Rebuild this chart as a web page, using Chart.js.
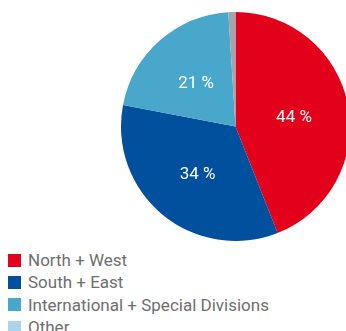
<!DOCTYPE html>
<html>
<head>
<meta charset="utf-8">
<script src="https://cdn.jsdelivr.net/npm/chart.js@4"></script>
<style>
  html, body { margin: 0; padding: 0; background: #fff; width: 346px; height: 331px; overflow: hidden; position: relative; }
  #wrap { position: absolute; left: 121px; top: 12px; width: 229px; height: 229px; }
  #legend { position: absolute; left: 8px; top: 249px; font-family: Roboto, "Noto Sans", sans-serif; font-size: 17px; color: #6e6e6e; }
  .item { height: 22.3px; line-height: 20px; display: flex; align-items: center; white-space: nowrap; }
  .sw { width: 13px; height: 13px; margin-right: 7px; flex: none; }
</style>
</head>
<body>
<div id="wrap"><canvas id="c"></canvas></div>
<div id="legend"></div>
<script>
const categories = ["North + West", "South + East", "International + Special Divisions", "Other"];
const values = [44, 34, 21, 1];
const sliceLabels = ["44 %", "34 %", "21 %", ""];
const sliceColors = ["#e2001a", "#00509e", "#4aa7cc", "#a2a6aa"];
const legendColors = ["#e2001a", "#00509e", "#4aa7cc", "#a9d4e9"];

const labelPlugin = {
  id: 'sliceLabels',
  afterDatasetsDraw(chart) {
    const ctx = chart.ctx;
    const meta = chart.getDatasetMeta(0);
    ctx.save();
    ctx.fillStyle = '#ffffff';
    ctx.font = '17px Roboto, "Noto Sans", sans-serif';
    ctx.textAlign = 'center';
    ctx.textBaseline = 'middle';
    meta.data.forEach((arc, i) => {
      const t = sliceLabels[i];
      if (!t) return;
      const p = arc.getProps(['x', 'y', 'startAngle', 'endAngle', 'outerRadius'], true);
      const mid = (p.startAngle + p.endAngle) / 2;
      const r = p.outerRadius * 0.52;
      ctx.fillText(t, p.x + Math.cos(mid) * r, p.y + Math.sin(mid) * r + 2);
    });
    ctx.restore();
  }
};

new Chart(document.getElementById('c'), {
  type: 'pie',
  data: {
    labels: categories,
    datasets: [{ data: values, backgroundColor: sliceColors, borderWidth: 0 }]
  },
  options: {
    responsive: true,
    maintainAspectRatio: false,
    animation: false,
    layout: { padding: 0 },
    plugins: { legend: { display: false }, tooltip: { enabled: false } }
  },
  plugins: [labelPlugin]
});

const lg = document.getElementById('legend');
categories.forEach((c, i) => {
  const d = document.createElement('div');
  d.className = 'item';
  const s = document.createElement('span');
  s.className = 'sw';
  s.style.background = legendColors[i];
  const t = document.createElement('span');
  t.textContent = c;
  d.appendChild(s); d.appendChild(t);
  lg.appendChild(d);
});
</script>
</body>
</html>
